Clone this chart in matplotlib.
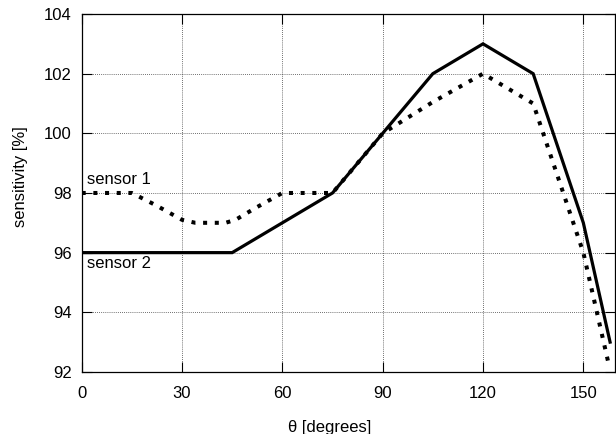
import matplotlib
matplotlib.use("Agg")
import matplotlib.pyplot as plt

# sensor 1 (dotted) and sensor 2 (solid), sensitivity in % vs theta in degrees
theta_s1 = [0, 15, 22, 30, 34, 43, 46, 52, 60, 75, 90, 105, 120, 135, 150, 157.5]
sens_s1 = [98, 98, 97.6, 97.1, 97.0, 97.0, 97.1, 97.5, 98, 98, 100, 101.05, 102, 101, 96, 92.3]

theta_s2 = [0, 45, 75, 90, 105, 120, 135, 150, 158]
sens_s2 = [96, 96, 98, 100, 102, 103, 102, 97, 93]

x_ticks = [0, 30, 60, 90, 120, 150]
y_ticks = [92, 94, 96, 98, 100, 102, 104]

plt.rcParams['font.family'] = ['Liberation Sans', 'DejaVu Sans']
plt.rcParams['font.size'] = 12

fig = plt.figure(figsize=(6.16, 4.34), dpi=100)
ax = fig.add_axes([0.1326, 0.143, 0.8654, 0.8247])

ax.plot(theta_s2, sens_s2, color='black', linewidth=2.3, solid_joinstyle='miter')
ax.plot(theta_s1, sens_s1, color='black', linewidth=2.9,
        linestyle=(0, (1, 1.9)), dash_capstyle='butt')

ax.set_xlim(0, 159.4)
ax.set_ylim(92, 104)
ax.set_xticks(x_ticks)
ax.set_yticks(y_ticks)
ax.grid(True, color='black', linestyle=(0, (1, 1.5)), linewidth=0.6, alpha=0.75)
ax.tick_params(direction='in', top=True, right=True, length=7, width=0.8, labelsize=12)
ax.tick_params(axis='x', pad=10)
ax.tick_params(axis='y', pad=7)
for s in ax.spines.values():
    s.set_linewidth(0.9)

ax.text(1.5, 98.2, "sensor 1", fontsize=12, va='bottom', ha='left')
ax.text(1.5, 95.9, "sensor 2", fontsize=12, va='top', ha='left')

ax.set_xlabel("θ [degrees]", fontsize=12)
ax.xaxis.set_label_coords(0.466, -0.135)
ax.set_ylabel("sensitivity [%]", fontsize=12)
ax.yaxis.set_label_coords(-0.1, 0.547)

fig.savefig("out.png", dpi=100)
plt.close(fig)
